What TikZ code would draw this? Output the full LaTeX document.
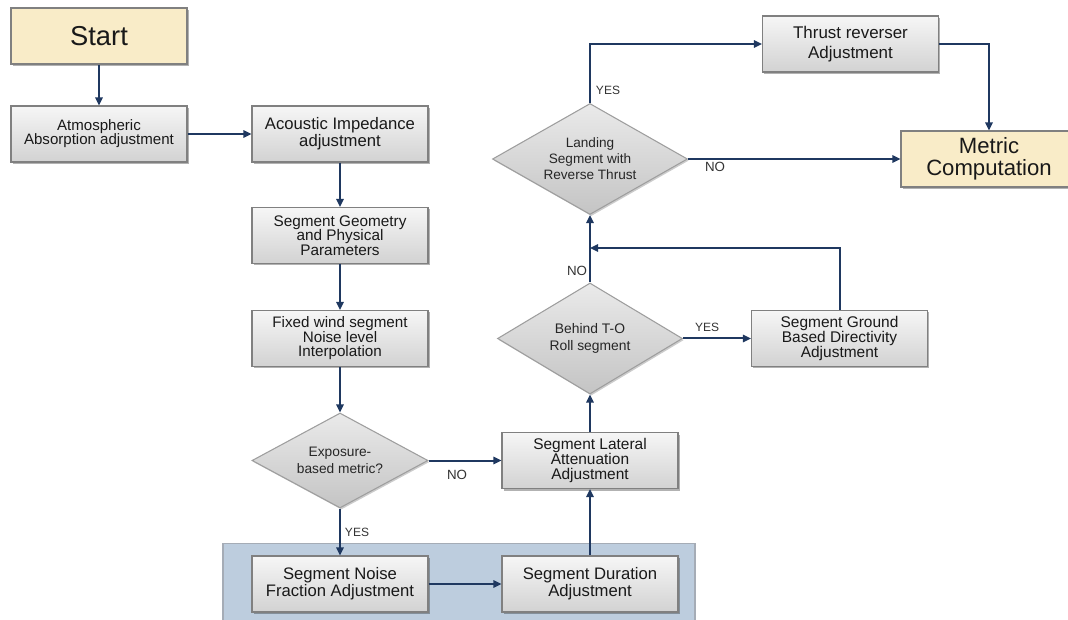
\documentclass[tikz,border=0pt]{standalone}
\usepackage{fontspec}
\setmainfont{Liberation Sans}
\usetikzlibrary{shapes.geometric,arrows.meta,shadows}
\definecolor{arrowc}{RGB}{31,56,96}
\definecolor{boxtop}{RGB}{246,246,246}
\definecolor{boxbot}{RGB}{210,210,210}
\definecolor{boxline}{RGB}{128,128,128}
\definecolor{startfill}{RGB}{249,236,200}
\definecolor{bandfill}{RGB}{189,205,222}
\definecolor{bandline}{RGB}{165,172,182}
\definecolor{diatop}{RGB}{234,234,234}
\definecolor{diabot}{RGB}{196,196,196}
\definecolor{dialine}{RGB}{158,158,158}
\definecolor{labelc}{RGB}{51,51,51}
\newcommand{\fs}[2]{\fontsize{#1}{#2}\selectfont}
\begin{document}
\begin{tikzpicture}[x={(0.75pt,0)}, y={(0,-0.75pt)},
  procbox/.style={draw=boxline, line width=0.8pt, top color=boxtop, bottom color=boxbot,
    minimum width=132pt, minimum height=42pt, inner sep=0pt, align=center, text=black!90,
    drop shadow={shadow xshift=1.2pt, shadow yshift=-1.5pt, opacity=0.3, fill=black}},
  termbox/.style={draw=boxline, line width=0.8pt, fill=startfill,
    minimum width=132pt, minimum height=42pt, inner sep=0pt, align=center, text=black!90,
    drop shadow={shadow xshift=1.2pt, shadow yshift=-1.5pt, opacity=0.3, fill=black}},
  decision/.style={diamond, draw=dialine, line width=0.8pt, top color=diatop, bottom color=diabot,
    inner sep=0pt, align=center, text=black!85,
    drop shadow={shadow xshift=1pt, shadow yshift=-1.2pt, opacity=0.2, fill=black}},
  flow/.style={draw=arrowc, line width=1.5pt, -{Triangle[length=6pt,width=5.5pt]}},
  lab/.style={text=labelc, inner sep=0pt}
]
\useasboundingbox (0,0) rectangle (1068,620);

% background band
\node[draw=bandline, line width=0.8pt, fill=bandfill, minimum width=354pt, minimum height=62pt, inner sep=0pt] (band) at (459,585) {};

% nodes
\node[termbox, font=\fs{20.5}{22}] (start) at (99,36) {Start};
\node[procbox, font=\fs{11.3}{10.6}] (atmo) at (99,134) {Atmospheric\\Absorption adjustment};
\node[procbox, font=\fs{12.5}{11.5}] (acou) at (340,134) {Acoustic Impedance\\adjustment};
\node[procbox, font=\fs{11.5}{10.9}] (geom) at (340,235.5) {Segment Geometry\\and Physical\\Parameters};
\node[procbox, font=\fs{11.4}{10.9}] (wind) at (340,338.5) {Fixed wind segment\\Noise level\\Interpolation};
\node[decision, minimum width=132pt, minimum height=71.25pt, aspect=1.85, font=\fs{10.3}{12.5}] (expo) at (340,460.5) {Exposure-\\based metric?};
\node[procbox, font=\fs{12.5}{11.3}] (noise) at (340,584) {Segment Noise\\Fraction Adjustment};
\node[procbox, font=\fs{12.5}{11.3}] (dur) at (590,584) {Segment Duration\\Adjustment};
\node[procbox, font=\fs{11.6}{11.2}] (lat) at (590,460.5) {Segment Lateral\\Attenuation\\Adjustment};
\node[decision, minimum width=138.75pt, minimum height=83.25pt, aspect=1.67, font=\fs{10.4}{12.8}] (behind) at (590,338.5) {Behind T-O\\Roll segment};
\node[procbox, font=\fs{11.6}{10.9}] (ground) at (839.5,338.5) {Segment Ground\\Based Directivity\\Adjustment};
\node[decision, minimum width=146.25pt, minimum height=83.25pt, aspect=1.75, font=\fs{10.2}{12}] (landing) at (590,159) {Landing\\Segment with\\Reverse Thrust};
\node[procbox, font=\fs{12.7}{15}] (thrust) at (850.5,44) {Thrust reverser\\Adjustment};
\node[termbox, font=\fs{16.6}{16.6}] (metric) at (989,159) {Metric\\Computation};
\coordinate (join) at (590,248);

% connectors
\draw[flow] (start) -- (atmo);
\draw[flow] (atmo) -- (acou);
\draw[flow] (acou) -- (geom);
\draw[flow] (geom) -- (wind);
\draw[flow] (wind) -- (expo);
\draw[flow] (expo) -- (noise);
\draw[flow] (expo) -- (lat);
\draw[flow] (noise) -- (dur);
\draw[flow] (dur) -- (lat);
\draw[flow] (lat) -- (behind);
\draw[flow] (behind) -- (ground);
\draw[flow] (ground.north) |- (join);
\draw[flow] (behind) -- (landing);
\draw[flow] (landing.north) |- (thrust.west);
\draw[flow] (landing) -- (metric);
\draw[flow] (thrust.east) -| (metric.north);

% labels
\node[lab, font=\fs{9}{10}] (yes1) at (357,532) {YES};
\node[lab, font=\fs{10}{11}] (no1) at (457,475) {NO};
\node[lab, font=\fs{9}{10}] (yes2) at (707,327) {YES};
\node[lab, font=\fs{10}{11}] (no2) at (577,271) {NO};
\node[lab, font=\fs{9}{10}] (yes3) at (608,90) {YES};
\node[lab, font=\fs{10}{11}] (no3) at (715,167) {NO};
\end{tikzpicture}
\end{document}
